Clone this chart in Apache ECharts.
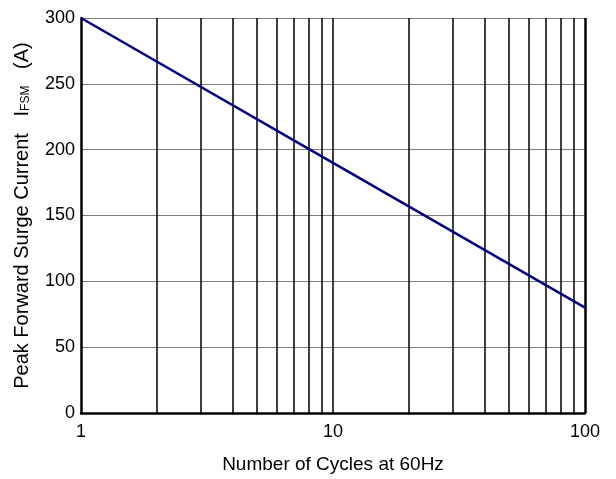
<!DOCTYPE html>
<html>
<head>
<meta charset="utf-8">
<script src="https://cdn.jsdelivr.net/npm/echarts@6/dist/echarts.min.js"></script>
<style>
html, body { margin: 0; padding: 0; background: #fff; }
#chart { width: 616px; height: 479px; }
</style>
</head>
<body>
<div id="chart"></div>
<script>
// surge curve
const cycles = [1, 10, 100];
const surgeAmps = [300, 190, 80];
// decade grid lines (vertical)
const gridCycles = [2, 3, 4, 5, 6, 7, 8, 9, 10, 20, 30, 40, 50, 60, 70, 80, 90];
const yTicks = [0, 50, 100, 150, 200, 250, 300];

const font = 'Liberation Sans, Arial, sans-serif';
const chart = echarts.init(document.getElementById('chart'));

const option = {
	animation: false,
	grid: { left: 81, right: 31, top: 18, bottom: 65 },
	xAxis: {
		type: 'log',
		logBase: 10,
		min: 1,
		max: 100,
		name: 'Number of Cycles at 60Hz',
		nameLocation: 'middle',
		nameGap: 42,
		nameTextStyle: { color: '#000', fontSize: 19, fontFamily: font, verticalAlign: 'top' },
		axisLine: { lineStyle: { color: '#000', width: 2.5 } },
		axisTick: { show: false },
		axisLabel: { color: '#000', fontSize: 18, fontFamily: font, margin: 10 },
		splitLine: { show: false }
	},
	yAxis: {
		type: 'value',
		min: yTicks[0],
		max: yTicks[yTicks.length - 1],
		interval: 50,
		name: '{n|Peak Forward Surge Current   I}{s|FSM}{n|   (A)}',
		nameLocation: 'middle',
		nameGap: 49,
		nameTextStyle: {
			rich: {
				n: { color: '#000', fontSize: 20, fontFamily: font },
				s: { color: '#000', fontSize: 12, fontFamily: font, verticalAlign: 'bottom', padding: [7, 0, 0, 0] }
			}
		},
		axisLine: { show: true, lineStyle: { color: '#000', width: 2.5 } },
		axisTick: { show: false },
		axisLabel: { color: '#000', fontSize: 18, fontFamily: font, margin: 6 },
		splitLine: { show: true, lineStyle: { color: '#7a7a7a', width: 1 } }
	},
	series: [{
		type: 'line',
		data: cycles.map((c, i) => [c, surgeAmps[i]]),
		symbol: 'none',
		lineStyle: { color: '#000080', width: 2.5 },
		z: 5,
		markLine: {
			silent: true,
			symbol: 'none',
			label: { show: false },
			lineStyle: { color: '#000', width: 1.5, type: 'solid' },
			data: gridCycles.map(c => ({ xAxis: c })).concat([
				{ xAxis: 100, lineStyle: { color: '#000', width: 2.5, type: 'solid' } }
			])
		}
	}]
};

chart.setOption(option);
</script>
</body>
</html>
